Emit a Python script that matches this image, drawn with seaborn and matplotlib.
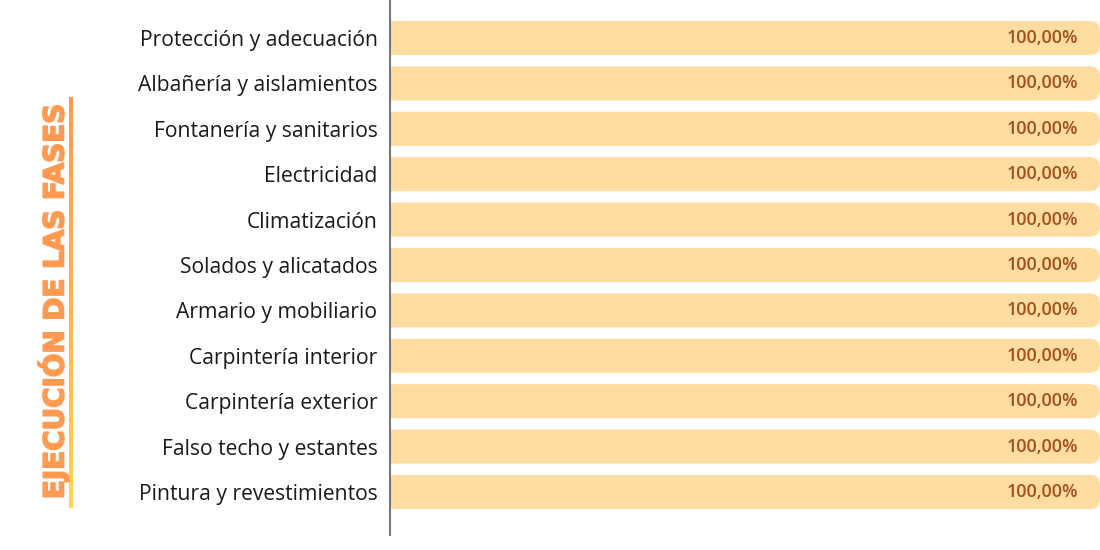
import numpy as np
import pandas as pd
import matplotlib
matplotlib.use('Agg')
import matplotlib.pyplot as plt
import matplotlib.patheffects as pe
from matplotlib.patches import FancyBboxPatch
from matplotlib.colors import LinearSegmentedColormap
import seaborn as sns

# Chart data
fases = [
    'Protección y adecuación',
    'Albañería y aislamientos',
    'Fontanería y sanitarios',
    'Electricidad',
    'Climatización',
    'Solados y alicatados',
    'Armario y mobiliario',
    'Carpintería interior',
    'Carpintería exterior',
    'Falso techo y estantes',
    'Pintura y revestimientos',
]
avance = [100, 100, 100, 100, 100, 100, 100, 100, 100, 100, 100]
titulo = 'EJECUCIÓN DE LAS FASES'

BAR_COLOR = '#FFDCA0'
VALUE_COLOR = '#A0521E'
TITLE_COLOR = '#FF9A50'

df = pd.DataFrame({'fase': fases, 'avance': avance})

sns.set_theme(style='white')
plt.rcParams['font.family'] = ['Open Sans', 'DejaVu Sans']

W, H = 1100, 550
fig = plt.figure(figsize=(11, 5.5), dpi=100)
ax = fig.add_axes([390 / W, 15 / H, 710 / W, 535 / H])

sns.barplot(data=df, x='avance', y='fase', ax=ax, color=BAR_COLOR,
            width=0.75, saturation=1, orient='h')

ax.set_xlim(0, 100)
step = 45.4
ax.set_ylim((535 - 38) / step, -38 / step)

# swap the square bars for bars rounded on the right
px_x = 710 / 100.0
px_y = step
radius = 10 / px_x
for p in list(ax.patches):
    x0, y0 = p.get_x(), p.get_y()
    w, h = p.get_width(), p.get_height()
    p.set_visible(False)
    rb = FancyBboxPatch((x0 - 5, y0), w + 5, h,
                        boxstyle=f'round,pad=0,rounding_size={radius}',
                        mutation_aspect=px_x / px_y,
                        facecolor=BAR_COLOR, edgecolor='none', clip_on=True)
    ax.add_patch(rb)

for i, v in enumerate(avance):
    ax.text(96.9, i, f'{v:.2f}'.replace('.', ',') + '%', ha='right', va='center',
            fontsize=13, fontweight='semibold', color=VALUE_COLOR)

ax.set_xlabel('')
ax.set_ylabel('')
ax.set_xticks([])
ax.tick_params(axis='y', length=0, pad=9, labelsize=15.2, labelcolor='#1a1a1a')
for s in ['top', 'right', 'bottom']:
    ax.spines[s].set_visible(False)
ax.spines['left'].set_color('#777777')
ax.spines['left'].set_linewidth(1.5)

# vertical title, stroked a little to get the heavy look
fig.text(53 / W, 1 - 302 / H, titulo, rotation=90, ha='center', va='center',
         fontsize=20, fontweight='bold', color=TITLE_COLOR, family=['DejaVu Sans'],
         path_effects=[pe.withStroke(linewidth=1.2, foreground=TITLE_COLOR)])

# gradient underline
lax = fig.add_axes([69 / W, 1 - 508 / H, 4 / W, 411 / H])
grad = np.linspace(0, 1, 256).reshape(-1, 1)
cmap = LinearSegmentedColormap.from_list('fase', ['#FF9A4D', '#FFB24F', '#FFD452'])
lax.imshow(grad, aspect='auto', cmap=cmap)
lax.axis('off')

fig.savefig('out.png', dpi=100, facecolor='white')
